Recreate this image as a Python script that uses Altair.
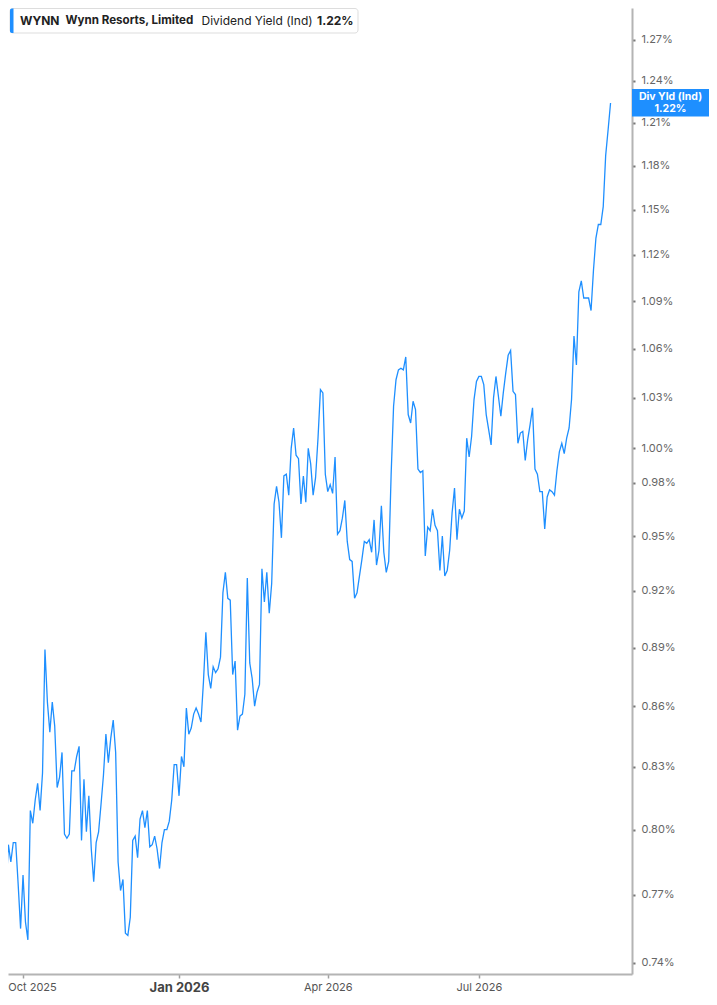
import altair as alt
import pandas as pd

# ---------------- data ----------------
# trading-day number of the first value (0 = 1 Oct 2025, one step per trading day)
first_day = -9
yield_pct = [
    0.800, 0.776, 0.772, 0.793, 0.785, 0.794, 0.794, 0.775, 0.755, 0.779,
    0.758, 0.750, 0.809, 0.803, 0.814, 0.822, 0.809, 0.827, 0.889, 0.862,
    0.847, 0.862, 0.850, 0.820, 0.825, 0.837, 0.798, 0.796, 0.798, 0.828,
    0.828, 0.835, 0.840, 0.795, 0.824, 0.799, 0.816, 0.791, 0.776, 0.794,
    0.799, 0.812, 0.826, 0.846, 0.832, 0.844, 0.853, 0.837, 0.785, 0.772,
    0.777, 0.753, 0.752, 0.760, 0.795, 0.797, 0.787, 0.805, 0.809, 0.801,
    0.809, 0.792, 0.793, 0.797, 0.791, 0.782, 0.794, 0.800, 0.800, 0.804,
    0.814, 0.831, 0.831, 0.816, 0.835, 0.830, 0.859, 0.846, 0.849, 0.856,
    0.859, 0.856, 0.852, 0.872, 0.898, 0.876, 0.869, 0.880, 0.877, 0.879,
    0.885, 0.919, 0.930, 0.916, 0.915, 0.876, 0.883, 0.848, 0.855, 0.856,
    0.866, 0.927, 0.882, 0.874, 0.860, 0.867, 0.871, 0.932, 0.914, 0.930,
    0.908, 0.924, 0.968, 0.978, 0.969, 0.949, 0.984, 0.985, 0.973, 1.000,
    1.012, 0.996, 0.994, 0.968, 0.984, 0.969, 1.000, 0.991, 0.973, 0.983,
    1.006, 1.035, 1.033, 0.985, 0.975, 0.979, 0.974, 0.995, 0.951, 0.953,
    0.960, 0.970, 0.947, 0.937, 0.936, 0.916, 0.919, 0.928, 0.937, 0.947,
    0.946, 0.948, 0.941, 0.959, 0.934, 0.942, 0.967, 0.941, 0.930, 0.936,
    0.985, 1.025, 1.041, 1.047, 1.048, 1.047, 1.055, 1.020, 1.015, 1.028,
    1.023, 0.988, 0.986, 0.987, 0.939, 0.955, 0.953, 0.965, 0.956, 0.953,
    0.931, 0.950, 0.928, 0.931, 0.942, 0.963, 0.977, 0.948, 0.965, 0.960,
    0.964, 1.006, 0.995, 1.007, 1.029, 1.040, 1.043, 1.043, 1.038, 1.020,
    1.011, 1.002, 1.030, 1.043, 1.031, 1.019, 1.033, 1.045, 1.056, 1.059,
    1.034, 1.032, 1.003, 1.009, 1.010, 0.993, 1.005, 1.014, 1.024, 0.988,
    0.985, 0.975, 0.975, 0.954, 0.972, 0.976, 0.975, 0.973, 0.987, 0.998,
    1.003, 0.997, 1.006, 1.012, 1.029, 1.068, 1.050, 1.096, 1.103, 1.092,
    1.092, 1.092, 1.084, 1.110, 1.131, 1.140, 1.140, 1.152, 1.187, 1.205,
    1.224,
]

# x axis: first trading day of each labelled month (trading-day numbers)
month_ticks = [0, 64, 125, 187]
month_labels = ["Oct 2025", "Jan 2026", "Apr 2026", "Jul 2026"]
year_ticks = [64]
x_domain = [-6.16, 249.8]

# y axis (percent)
y_ticks = [0.74, 0.77, 0.80, 0.83, 0.86, 0.89, 0.92, 0.95, 0.98, 1.00,
           1.03, 1.06, 1.09, 1.12, 1.15, 1.18, 1.21, 1.24, 1.27, 1.30]
y_domain = [0.7352, 1.294]

ticker = "WYNN"
company = "Wynn Resorts, Limited"
metric = "Dividend Yield (Ind)"
badge_title = "Div Yld (Ind)"

BLUE = "#1e8fff"
FONT = "Inter"
W, H = 624, 966

# ---------------- chart ----------------
df = pd.DataFrame({
    "day": list(range(first_day, first_day + len(yield_pct))),
    "yield": yield_pct,
})
last_day = int(df["day"].iloc[-1])

label_expr = "''"
for t, lab in reversed(list(zip(month_ticks, month_labels))):
    label_expr = f"datum.value == {t} ? '{lab}' : {label_expr}"
year_test = " || ".join(f"datum.value == {t}" for t in year_ticks)
first_test = f"datum.value == {month_ticks[0]}"

x_enc = alt.X(
    "day:Q",
    scale=alt.Scale(domain=x_domain, nice=False, zero=False),
    axis=alt.Axis(
        values=month_ticks, labelExpr=label_expr, title=None, grid=False,
        domainColor="#b4b4b4", domainWidth=2,
        tickColor="#a0a0a0", tickSize=4, tickWidth=1.5,
        labelFont=FONT,
        labelFontSize={"condition": {"test": year_test, "value": 13}, "value": 11},
        labelFontWeight={"condition": {"test": year_test, "value": "bold"}, "value": "normal"},
        labelColor={"condition": {"test": year_test, "value": "#444444"}, "value": "#555555"},
        labelOffset={"condition": {"test": first_test, "value": 9}, "value": 0},
        labelPadding=3, labelOverlap=False, labelFlush=False,
    ),
)

y_enc = alt.Y(
    "yield:Q",
    scale=alt.Scale(type="log", domain=y_domain, nice=False, zero=False),
    axis=alt.Axis(
        orient="right", values=y_ticks,
        labelExpr="format(datum.value, '.2f') + '%'",
        title=None, grid=False,
        domainColor="#b4b4b4", domainWidth=2,
        tickColor="#777777", tickSize=3, tickWidth=2,
        labelFont=FONT, labelFontSize=11, labelColor="#666666",
        labelPadding=6, labelOverlap=False, labelFlush=False,
    ),
)

line = alt.Chart(df).mark_line(color=BLUE, strokeWidth=1.3, clip=True).encode(
    x=x_enc, y=y_enc
)

last = (
    alt.Chart(df)
    .transform_filter(f"datum.day == {last_day}")
    .transform_calculate(label="format(datum.yield, '.2f') + '%'")
)

badge = last.mark_rect(color=BLUE, yOffset=-14, y2Offset=13.5).encode(
    x=alt.value(W), x2=alt.value(701), y=y_enc, y2=alt.Y2("yield")
)
badge_t1 = last.mark_text(
    text=badge_title, color="white", font=FONT, fontSize=10.5, fontWeight="bold",
    dy=-5.8, align="center", baseline="middle",
).encode(x=alt.value(662.5), y=y_enc)
badge_t2 = last.mark_text(
    color="white", font=FONT, fontSize=10.5, fontWeight="bold",
    dy=5.6, align="center", baseline="middle",
).encode(x=alt.value(662.5), y=y_enc, text="label:N")

box = last.mark_rect(fill="white", stroke="#dddddd", strokeWidth=1, cornerRadius=3).encode(
    x=alt.value(2), x2=alt.value(350), y=alt.value(0.5), y2=alt.value(25)
)
bar = last.mark_rect(fill=BLUE, cornerRadiusTopLeft=2, cornerRadiusBottomLeft=2).encode(
    x=alt.value(2), x2=alt.value(5.5), y=alt.value(0.5), y2=alt.value(25)
)


def legend_text(txt, xpos, weight, size=12):
    return last.mark_text(
        text=txt, align="left", baseline="middle", font=FONT, fontSize=size,
        fontWeight=weight, color="#222222",
    ).encode(x=alt.value(xpos), y=alt.value(13))


t_ticker = legend_text(ticker, 12, "bold")
t_company = legend_text(company, 57.5, "bold", 11.6)
t_metric = legend_text(metric, 193.5, "normal")
t_value = last.mark_text(
    align="left", baseline="middle", font=FONT, fontSize=12, fontWeight="bold",
    color="#222222",
).encode(x=alt.value(309), y=alt.value(13), text="label:N")

chart = (
    alt.layer(line, badge, badge_t1, badge_t2, box, bar, t_ticker, t_company, t_metric, t_value)
    .properties(
        width=W, height=H,
        padding={"left": 0, "top": 0, "right": 77, "bottom": 23},
        autosize=alt.AutoSizeParams(type="none"),
        background="white",
    )
    .configure_view(stroke=None)
)

chart.save("out.html", embed_options={"renderer": "svg", "actions": False})
